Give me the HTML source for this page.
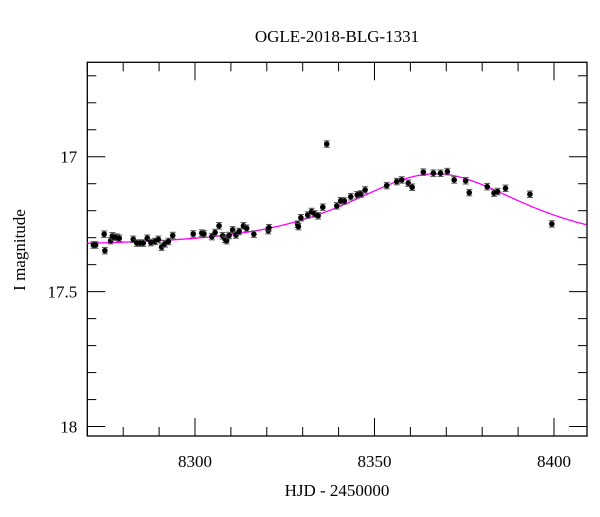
<!DOCTYPE html>
<html><head><meta charset="utf-8"><style>
body{margin:0;background:#fff;}
svg text{font-family:"Liberation Serif",serif;fill:#000;}
</style></head><body>
<svg id="chart" width="600" height="512" xmlns="http://www.w3.org/2000/svg">
<text x="337" y="42" font-size="17" text-anchor="middle">OGLE-2018-BLG-1331</text>
<text x="337" y="496" font-size="17" text-anchor="middle">HJD - 2450000</text>
<text x="0" y="0" font-size="17" text-anchor="middle" transform="translate(25,250) rotate(-90)">I magnitude</text>
<g id="axes"></g>
<g id="model"></g>
<g id="points"></g>
</svg>
<script>
const hjd=[8271.7,8272.3,8274.7,8274.9,8276.5,8277.0,8277.5,8278.2,8278.9,8282.8,8283.8,8284.7,8285.6,8286.7,8287.7,8288.9,8289.8,8290.7,8291.6,8292.6,8293.8,8299.5,8301.9,8302.5,8304.7,8305.6,8306.7,8307.7,8308.4,8308.8,8309.5,8310.5,8311.4,8312.3,8313.5,8314.4,8316.4,8320.4,8320.6,8328.6,8328.8,8329.5,8331.4,8332.5,8333.4,8334.3,8335.6,8336.7,8339.5,8340.6,8341.6,8343.4,8345.2,8346.2,8347.4,8353.4,8356.2,8357.6,8359.4,8360.5,8363.6,8366.4,8368.4,8370.3,8372.2,8375.4,8376.4,8381.4,8383.3,8384.3,8386.5,8393.3,8399.4];
const mag=[17.327,17.327,17.287,17.348,17.311,17.293,17.298,17.298,17.302,17.306,17.320,17.320,17.320,17.302,17.318,17.314,17.306,17.335,17.323,17.314,17.292,17.286,17.283,17.286,17.296,17.281,17.256,17.293,17.306,17.311,17.292,17.271,17.290,17.277,17.256,17.265,17.287,17.274,17.263,17.250,17.259,17.226,17.216,17.203,17.212,17.219,17.187,16.953,17.182,17.163,17.164,17.148,17.141,17.138,17.123,17.107,17.092,17.086,17.098,17.113,17.057,17.061,17.061,17.055,17.086,17.089,17.133,17.111,17.135,17.129,17.117,17.139,17.249];
const magErr=0.012;
const xTickLabels=[8300,8350,8400];
const yTickLabels=["17","17.5","18"];
const yTickValues=[17,17.5,18];
const modelParams=[8367,28,1.1,17.33]; // t0, tE, u0, baseline

const L=87.3,R=587,T=62.3,B=436;
const x0=8270,x1=8409.2,y0=16.65,y1=18.035;
const sx=v=>L+(v-x0)/(x1-x0)*(R-L);
const sy=v=>T+(v-y0)/(y1-y0)*(B-T);
const NS='http://www.w3.org/2000/svg';
function mk(tag,attrs,parent){const e=document.createElementNS(NS,tag);for(const k in attrs)e.setAttribute(k,attrs[k]);parent.appendChild(e);return e;}
const ax=document.getElementById('axes');
const frame=mk('rect',{x:L,y:T,width:R-L,height:B-T,fill:'none',stroke:'#000','stroke-width':1.3},ax);


for(let v=8270;v<=8409;v+=10){
  const major=(v%50===0),len=major?18:9,x=sx(v);
  const t1=mk('line',{x1:x,x2:x,y1:B,y2:B-len,stroke:'#000','stroke-width':1},ax);
  
  
  const t2=mk('line',{x1:x,x2:x,y1:T,y2:T+len,stroke:'#000','stroke-width':1},ax);
  
  
}
xTickLabels.forEach(v=>{
  const t=mk('text',{x:sx(v),y:B+31,'font-size':17,'text-anchor':'middle'},ax);t.textContent=v;
  
  
});
for(let i=17;i<=180;i++){
  const v=i/10;if(v<y0||v>y1)continue;
  const major=(i%5===0),len=major?18:9,y=sy(v);
  const t1=mk('line',{x1:L,x2:L+len,y1:y,y2:y,stroke:'#000','stroke-width':1},ax);
  
  
  const t2=mk('line',{x1:R,x2:R-len,y1:y,y2:y,stroke:'#000','stroke-width':1},ax);
  
  
}
yTickValues.forEach((v,i)=>{
  const t=mk('text',{x:L-10,y:sy(v)+6,'font-size':17,'text-anchor':'end'},ax);t.textContent=yTickLabels[i];
  
  
});
const [t0,tE,u0,base]=modelParams;
let d='';
for(let t=x0;t<=x1;t+=0.5){
  const tau=(t-t0)/tE,u=Math.sqrt(u0*u0+tau*tau);
  const A=(u*u+2)/(u*Math.sqrt(u*u+4));
  const m=base-2.5*Math.log10(A);
  d+=(d?'L':'M')+sx(t).toFixed(2)+','+sy(m).toFixed(2);
}
const mg=document.getElementById('model');
const mp=mk('path',{d:d,fill:'none',stroke:'#ff00ff','stroke-width':1.3},mg);


const pg=document.getElementById('points');
hjd.forEach((t,i)=>{
  const x=sx(t),y=sy(mag[i]),ya=sy(mag[i]-magErr),yb=sy(mag[i]+magErr);
  const g=mk('g',{},pg);
  
  
  mk('line',{x1:x,x2:x,y1:ya,y2:yb,stroke:'#555','stroke-width':1},g);
  mk('line',{x1:x-3,x2:x+3,y1:ya,y2:ya,stroke:'#555','stroke-width':1},g);
  mk('line',{x1:x-3,x2:x+3,y1:yb,y2:yb,stroke:'#555','stroke-width':1},g);
  mk('circle',{cx:x,cy:y,r:2.8,fill:'#000'},g);
});
</script>
</body></html>
